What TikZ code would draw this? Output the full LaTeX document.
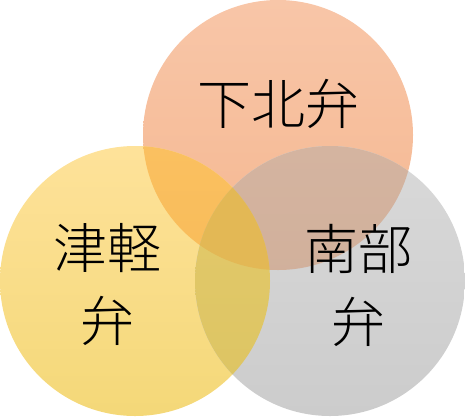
\documentclass[tikz,border=0pt]{standalone}
\usepackage{fontspec}
\IfFontExistsTF{Noto Sans CJK JP Light}
  {\newfontfamily\jp{Noto Sans CJK JP Light}}
  {\newfontfamily\jp{Noto Sans CJK JP}}
\definecolor{oTop}{HTML}{F8C6A8}
\definecolor{oBot}{HTML}{F5B790}
\definecolor{yTop}{HTML}{FEE29A}
\definecolor{yBot}{HTML}{F4D878}
\definecolor{gTop}{HTML}{D9D9D9}
\definecolor{gBot}{HTML}{CCCCCC}
\definecolor{oyTop}{HTML}{FAC060}
\definecolor{oyBot}{HTML}{F7B752}
\definecolor{ogTop}{HTML}{D4B4A0}
\definecolor{ogBot}{HTML}{CEAC96}
\definecolor{ygTop}{HTML}{E4CA6C}
\definecolor{ygBot}{HTML}{DCC462}
\definecolor{oygCol}{HTML}{E3B855}
\tikzset{
  label/.style={font={\jp\fontsize{54}{73}\selectfont}, text=black, align=center, inner sep=0pt},
}
\begin{document}
\begin{tikzpicture}[x=1pt,y=-1pt]
\useasboundingbox (0,0) rectangle (465,416);
\def\cO{(278,135) circle (135)}
\def\cY{(135,281) circle (135)}
\def\cG{(330,281) circle (135)}
% single circles
\shade[top color=oTop, bottom color=oBot] \cO;
\shade[top color=yTop, bottom color=yBot] \cY;
\shade[top color=gTop, bottom color=gBot] \cG;
% pairwise overlaps
\begin{scope}\clip \cO; \shade[top color=oyTop, bottom color=oyBot] \cY; \end{scope}
\begin{scope}\clip \cO; \shade[top color=ogTop, bottom color=ogBot] \cG; \end{scope}
\begin{scope}\clip \cY; \shade[top color=ygTop, bottom color=ygBot] \cG; \end{scope}
% triple overlap
\begin{scope}\clip \cO; \clip \cY; \fill[oygCol] \cG; \end{scope}
% labels
\node[label] (shimokita) at (278,104) {下北弁};
\node[label] (tsugaru) at (107,285) {津軽\\弁};
\node[label] (nanbu) at (358,285) {南部\\弁};
\end{tikzpicture}
\end{document}
